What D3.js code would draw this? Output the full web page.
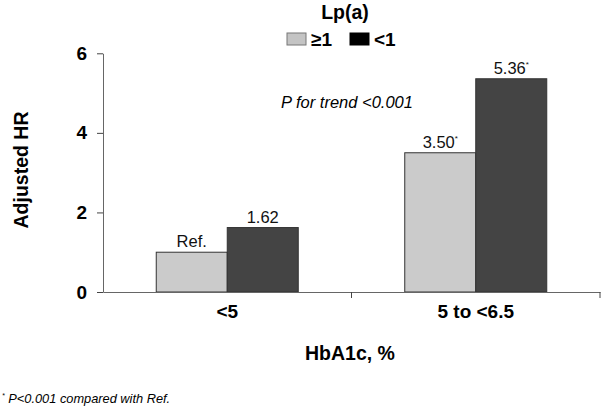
<!DOCTYPE html>
<html>
<head>
<meta charset="utf-8">
<script src="https://cdn.jsdelivr.net/npm/d3@7"></script>
<style>
  body { margin: 0; background: #fff; }
  svg { font-family: "Liberation Sans", Arial, Helvetica, sans-serif; }
</style>
</head>
<body>
<div id="chart"></div>
<script>
// data
var categories = ["<5", "5 to <6.5"];
var groups = ["≥1", "<1"];
var hrGe1 = [1.00, 3.50];
var hrLt1 = [1.62, 5.36];
var labelGe1 = ["Ref.", "3.50"];
var labelLt1 = ["1.62", "5.36"];
var starGe1 = [false, true];
var starLt1 = [false, true];
var yTicks = [0, 2, 4, 6];
var colors = ["#cbcbcb", "#444444"];
var legendColors = ["#c4c4c4", "#000000"];

var WIDTH = 603, HEIGHT = 420;
var MARGIN = {top: 53.3, right: 3, bottom: 128, left: 103};

var svg = d3.select('#chart').append('svg')
    .attr('width', WIDTH)
    .attr('height', HEIGHT);

var y = d3.scaleLinear()
    .domain([0, 6])
    .range([HEIGHT - MARGIN.bottom, MARGIN.top]);

var x = d3.scaleBand()
    .domain(categories)
    .range([MARGIN.left, WIDTH - MARGIN.right])
    .paddingInner(0)
    .paddingOuter(0);

var x1 = d3.scaleBand()
    .domain(groups)
    .range([0, x.bandwidth()])
    .paddingInner(0)
    .paddingOuter(0.75);

// rows for the bars
var rows = [];
categories.forEach(function(c, i) {
    rows.push({cat: c, grp: groups[0], v: hrGe1[i], label: labelGe1[i], star: starGe1[i], k: 0});
    rows.push({cat: c, grp: groups[1], v: hrLt1[i], label: labelLt1[i], star: starLt1[i], k: 1});
});

// bars
svg.append('g').selectAll('rect')
  .data(rows)
  .enter()
  .append('rect')
    .attr('x', function(d) { return x(d.cat) + x1(d.grp); })
    .attr('y', function(d) { return y(d.v); })
    .attr('width', x1.bandwidth())
    .attr('height', function(d) { return y(0) - y(d.v); })
    .style('fill', function(d) { return colors[d.k]; })
    .style('stroke', '#333')
    .style('stroke-width', 1);

// value labels
var lbl = svg.append('g').selectAll('text')
  .data(rows)
  .enter()
  .append('text')
    .attr('x', function(d) { return x(d.cat) + x1(d.grp) + x1.bandwidth() / 2; })
    .attr('y', function(d) { return y(d.v) - 5; })
    .attr('text-anchor', 'middle')
    .style('font-size', '16.5px')
    .style('fill', '#111');
lbl.append('tspan').text(function(d) { return d.label; });
lbl.filter(function(d) { return d.star; })
  .append('tspan')
    .attr('dy', -7)
    .style('font-size', '8px')
    .text('*');

// y axis
var yAxis = svg.append('g')
    .attr('transform', 'translate(' + MARGIN.left + ',0)')
    .call(d3.axisLeft(y).tickValues(yTicks).tickSize(6).tickSizeOuter(0).tickPadding(10).tickFormat(d3.format('d')));
yAxis.select('.domain').attr('stroke', '#666');
yAxis.selectAll('.tick line').attr('stroke', '#444');
yAxis.selectAll('.tick text')
    .style('font-size', '19px')
    .style('font-weight', 'bold')
    .style('font-family', '"Liberation Sans", Arial, sans-serif')
    .attr('fill', '#000');

// x axis: labels at band centres, tick marks at band edges
var xAxis = svg.append('g')
    .attr('transform', 'translate(0,' + y(0) + ')')
    .call(d3.axisBottom(x).tickSize(0).tickSizeOuter(0).tickPadding(13));
xAxis.select('.domain').attr('stroke', '#666');
xAxis.selectAll('.tick text')
    .style('font-size', '19px')
    .style('font-weight', 'bold')
    .style('font-family', '"Liberation Sans", Arial, sans-serif')
    .attr('fill', '#000');
xAxis.selectAll('line.edge')
  .data(categories)
  .enter()
  .append('line')
    .attr('class', 'edge')
    .attr('x1', function(d) { return x(d) + x.bandwidth(); })
    .attr('x2', function(d) { return x(d) + x.bandwidth(); })
    .attr('y1', 0)
    .attr('y2', 6)
    .attr('stroke', '#444');

// axis titles
svg.append('text')
    .attr('transform', 'translate(28,170) rotate(-90)')
    .attr('text-anchor', 'middle')
    .style('font-size', '19.5px')
    .style('font-weight', 'bold')
    .text('Adjusted HR');

svg.append('text')
    .attr('x', 350)
    .attr('y', 360)
    .attr('text-anchor', 'middle')
    .style('font-size', '19.5px')
    .style('font-weight', 'bold')
    .text('HbA1c, %');

// legend
svg.append('text')
    .attr('x', 345)
    .attr('y', 19)
    .attr('text-anchor', 'middle')
    .style('font-size', '19.5px')
    .style('font-weight', 'bold')
    .text('Lp(a)');

var legendX = [287, 350];
var leg = svg.append('g').selectAll('g')
  .data(groups)
  .enter()
  .append('g')
    .attr('transform', function(d, i) { return 'translate(' + legendX[i] + ',33)'; });
leg.append('rect')
    .attr('width', 19)
    .attr('height', 12)
    .style('fill', function(d, i) { return legendColors[i]; })
    .style('stroke', function(d, i) { return i == 0 ? '#777' : '#000'; });
leg.append('text')
    .attr('x', 24)
    .attr('y', 13)
    .style('font-size', '19px')
    .style('font-weight', 'bold')
    .text(function(d) { return d; });

// annotations
svg.append('text')
    .attr('x', 281)
    .attr('y', 108)
    .style('font-size', '16.5px')
    .style('font-style', 'italic')
    .text('P for trend <0.001');

var foot = svg.append('text')
    .attr('x', 2)
    .attr('y', 403)
    .style('font-size', '12.8px')
    .style('font-style', 'italic');
foot.append('tspan').attr('dy', -5).style('font-size', '7px').text('*');
foot.append('tspan').attr('dy', 5).text(' P<0.001 compared with Ref.');
</script>
</body>
</html>
